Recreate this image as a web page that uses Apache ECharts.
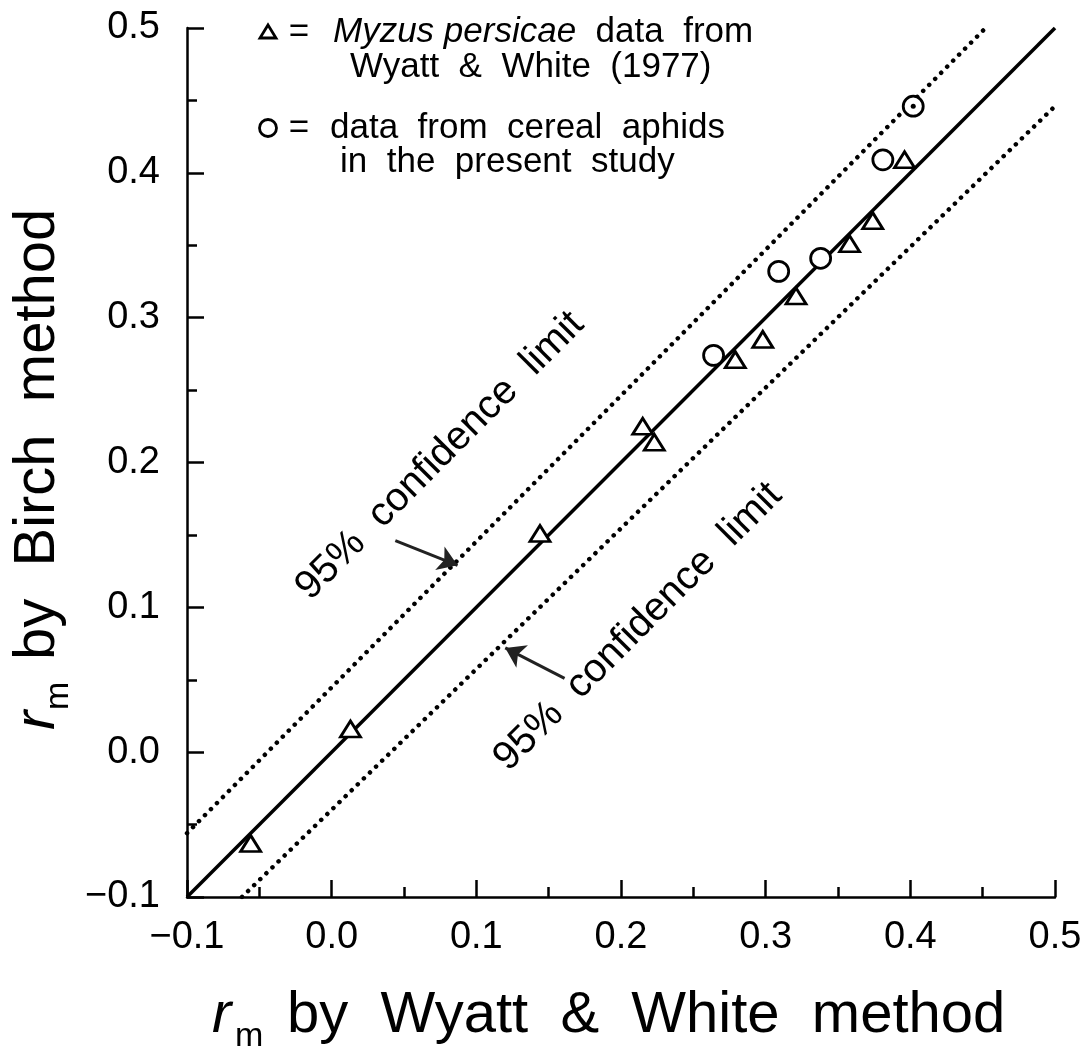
<!DOCTYPE html>
<html>
<head>
<meta charset="utf-8">
<title>rm by Birch method vs rm by Wyatt &amp; White method</title>
<script src="https://cdn.jsdelivr.net/npm/echarts@6/dist/echarts.min.js"></script>
<style>
html,body{margin:0;padding:0;background:#fff;}
#main{width:1086px;height:1053px;}
</style>
</head>
<body>
<div id="main"></div>
<script>
// 三角形: Myzus persicae (Wyatt & White 1977)  [Wyatt&White, Birch]
var myzusData = [[-0.056,-0.063],[0.013,0.016],[0.144,0.151],[0.215,0.225],[0.223,0.214],
	[0.279,0.271],[0.298,0.285],[0.321,0.315],[0.358,0.351],[0.374,0.367],[0.396,0.409]];
// 圆圈: cereal aphids (present study)
var cerealData = [[0.264,0.274],[0.309,0.332],[0.338,0.341],[0.381,0.409],[0.402,0.446]];
// 带点的圆圈
var dotData = [[0.402,0.446]];

// 1:1 线 和 95% 置信限
var fitLine = [[-0.1,-0.1],[0.5,0.5]];
var upperLimit = [[-0.1,-0.056],[0.452,0.5]];
var lowerLimit = [[-0.062,-0.1],[0.5,0.446]];

// 箭头 (起点 -> 终点)
var upperArrow = [[0.044,0.146],[0.087,0.129]];
var lowerArrow = [[0.161,0.051],[0.120,0.072]];

var tickLabels = ['\u22120.1','0.0','0.1','0.2','0.3','0.4','0.5'];

var FONT = 'Liberation Sans';
var black = '#000';

function axisCfg(pos){
	return {
		type: 'value',
		position: pos,
		min: -0.1,
		max: 0.5,
		interval: 0.1,
		axisLine: {show: true, onZero: false, lineStyle: {color: black, width: 2.5}},
		axisTick: {show: true, inside: true, length: 17, lineStyle: {color: black, width: 2.5}},
		minorTick: {show: true, splitNumber: 2, length: 10, lineStyle: {color: black, width: 2.5}},
		splitLine: {show: false},
		minorSplitLine: {show: false},
		axisLabel: {
			color: black,
			fontFamily: FONT,
			fontSize: 38,
			margin: pos == 'bottom' ? 22 : 27,
			formatter: function(v){
				var i = Math.round((v + 0.1) / 0.1);
				return tickLabels[i];
			}
		}
	};
}

function txt(x, y, s, size, extra){
	var st = {text: s, fill: black, fontFamily: FONT, fontSize: size, align: 'left', verticalAlign: 'middle'};
	for (var k in (extra || {})) st[k] = extra[k];
	return {type: 'text', x: x, y: y, style: st, z: 10};
}

var chart = echarts.init(document.getElementById('main'), null, {renderer: 'canvas'});

var arrowLine = {color: '#222', width: 3, type: 'solid'};
// scatter 默认 opacity 是 0.8, 这里改成 1
var hollow = {color: '#fff', borderColor: black, borderWidth: 2.8, opacity: 1};

var option = {
	backgroundColor: '#fff',
	animation: false,
	grid: {left: 187, right: 31, top: 28, bottom: 156, containLabel: false},
	xAxis: axisCfg('bottom'),
	yAxis: axisCfg('left'),
	series: [
		{
			type: 'line', data: fitLine, symbol: 'none', silent: true,
			lineStyle: {color: black, width: 3.5}, z: 2
		},
		{
			type: 'line', data: upperLimit, symbol: 'none', silent: true,
			lineStyle: {color: black, width: 4.5, type: [0.1, 8.4], cap: 'round'}, z: 2,
			markLine: {
				silent: true, symbol: ['none', 'arrow'], symbolSize: 19,
				label: {show: false}, lineStyle: arrowLine,
				data: [[{coord: upperArrow[0]}, {coord: upperArrow[1]}]]
			}
		},
		{
			type: 'line', data: lowerLimit, symbol: 'none', silent: true,
			lineStyle: {color: black, width: 4.5, type: [0.1, 8.4], cap: 'round'}, z: 2,
			markLine: {
				silent: true, symbol: ['none', 'arrow'], symbolSize: 19,
				label: {show: false}, lineStyle: arrowLine,
				data: [[{coord: lowerArrow[0]}, {coord: lowerArrow[1]}]]
			}
		},
		{
			type: 'scatter', data: myzusData, symbol: 'triangle', symbolSize: [20, 16],
			itemStyle: hollow, z: 5
		},
		{
			type: 'scatter', data: cerealData, symbol: 'circle', symbolSize: 20,
			itemStyle: hollow, z: 5
		},
		{
			type: 'scatter', data: dotData, symbol: 'circle', symbolSize: 5,
			itemStyle: {color: black, opacity: 1}, z: 6
		}
	],
	graphic: [
		// 图例 (左上)
		{type: 'polygon', x: 268, y: 32, shape: {points: [[0,-7],[8,6],[-8,6]]},
			style: {fill: '#fff', stroke: black, lineWidth: 2.8}, z: 10},
		txt(299, 32, '=', 35, {align: 'center'}),
		txt(333, 32, '{it|Myzus persicae}  data  from', 35, {
			rich: {it: {fontStyle: 'italic', fontFamily: FONT, fontSize: 35, fill: black}}
		}),
		txt(350, 67, 'Wyatt  &  White  (1977)', 35),
		{type: 'circle', shape: {cx: 268, cy: 128, r: 8.5},
			style: {fill: '#fff', stroke: black, lineWidth: 2.8}, z: 10},
		txt(299, 128, '=', 35, {align: 'center'}),
		txt(330, 128, 'data  from  cereal  aphids', 35),
		txt(340, 162, 'in  the  present  study', 35),

		// 95% confidence limit 标注
		txt(440, 456, '95%  confidence  limit', 40, {align: 'center'}),
		txt(638, 627, '95%  confidence  limit', 40, {align: 'center'}),

		// x 轴标题
		txt(212, 1016, 'r', 58, {fontStyle: 'italic'}),
		txt(235, 1037, 'm', 34),
		txt(287, 1016, 'by  Wyatt  &  White  method', 58),

		// y 轴标题 (旋转)
		txt(38, 730, 'r', 58, {fontStyle: 'italic'}),
		txt(59, 710, 'm', 34),
		txt(38, 660, 'by  Birch  method', 58)
	]
};

// 旋转
option.graphic[8].rotation = Math.PI / 4;
option.graphic[9].rotation = Math.PI / 4;
option.graphic[13].rotation = Math.PI / 2;
option.graphic[14].rotation = Math.PI / 2;
option.graphic[15].rotation = Math.PI / 2;

chart.setOption(option);
</script>
</body>
</html>
